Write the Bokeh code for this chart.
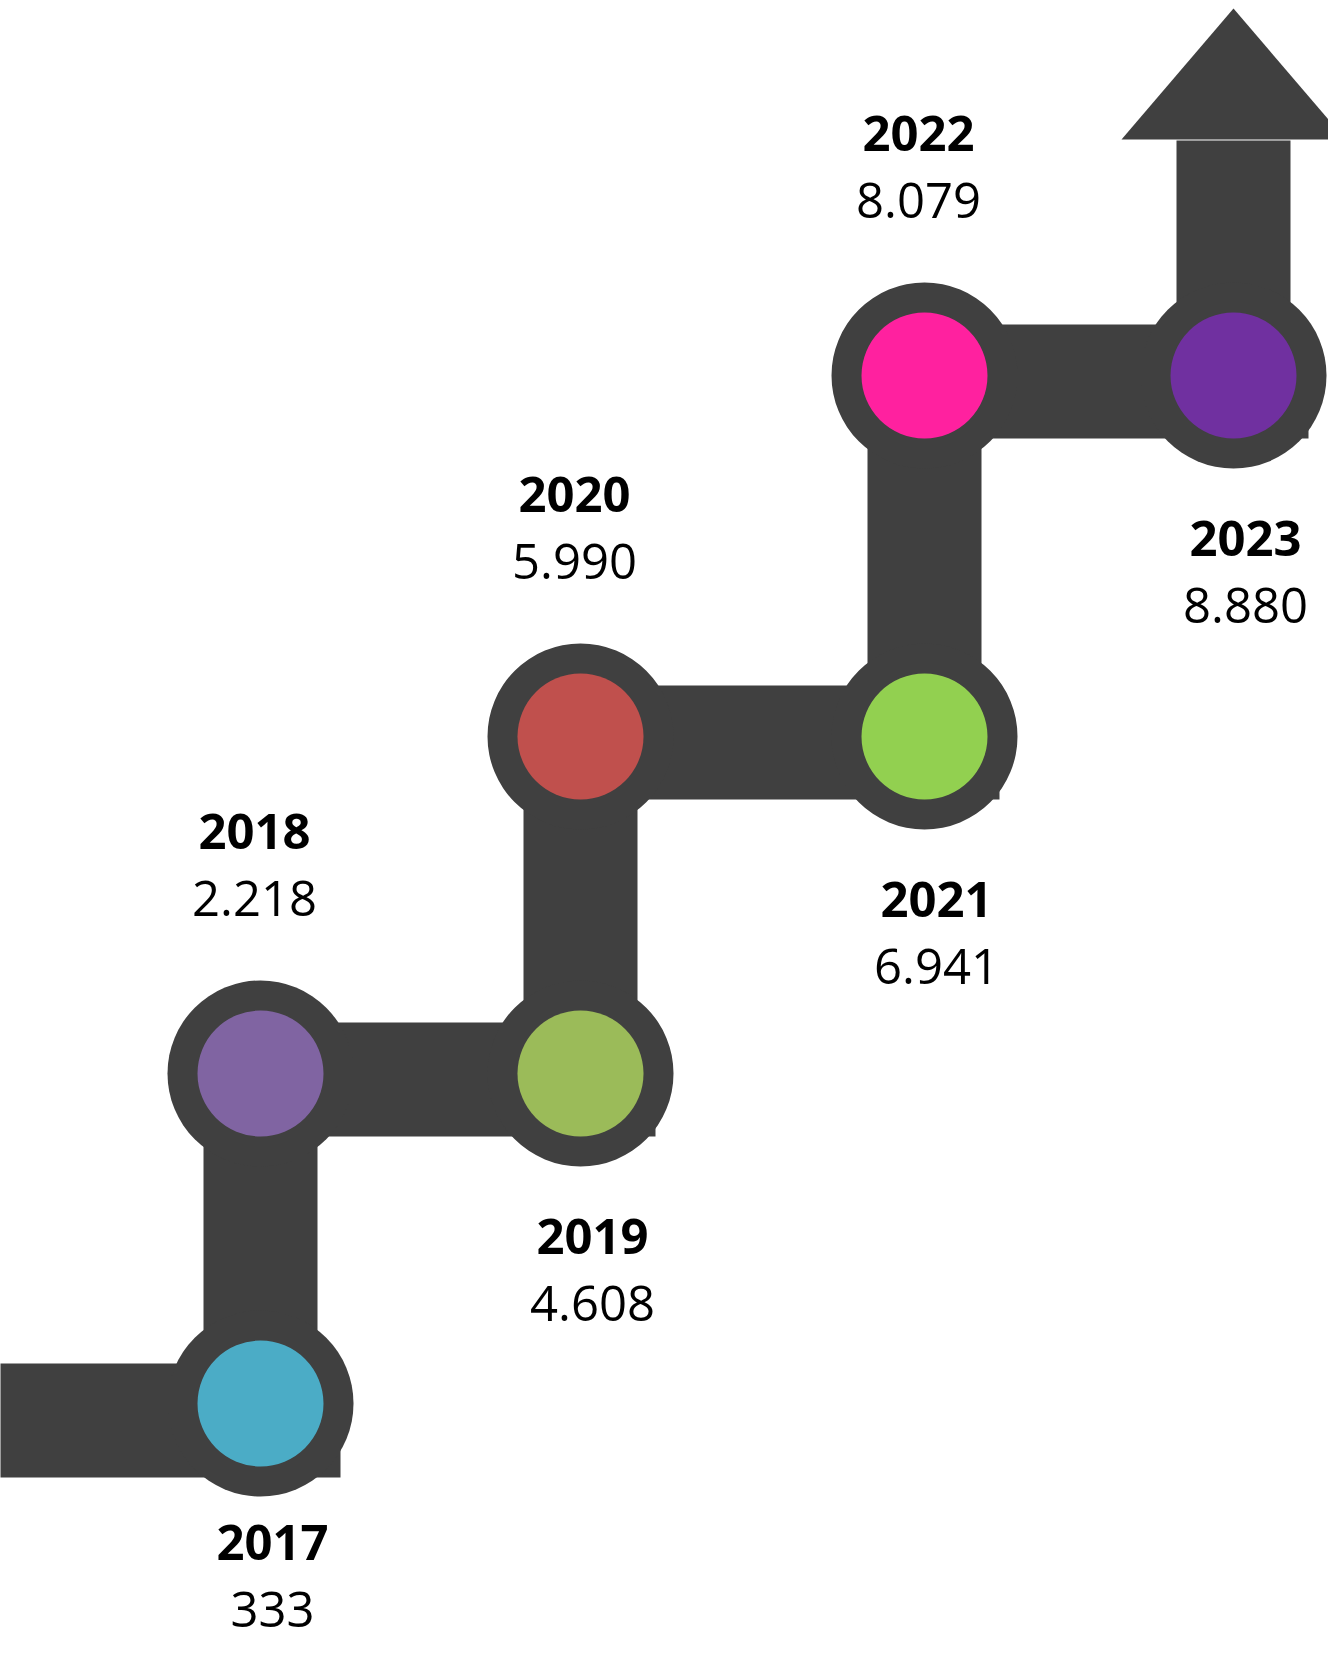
from bokeh.plotting import figure
from bokeh.models import Range1d, ColumnDataSource
from bokeh.core.properties import value
from bokeh.embed import file_html
from bokeh.resources import INLINE

# ---- data ----
years = ["2017", "2018", "2019", "2020", "2021", "2022", "2023"]
amounts = [333, 2218, 4608, 5990, 6941, 8079, 8880]
node_colors = ["#4BACC6", "#8064A2", "#9BBB59", "#C0504D", "#92D050", "#FF219F", "#7030A0"]

# ---- layout (staircase grid, in screen pixels) ----
col_x = [260, 580, 924, 1233]
row_y = [1403, 1073, 736, 375]
DARK = "#404040"
BAR = 114
R_OUT = 93
R_IN = 63

n = len(years)
cols = [i // 2 for i in range(n)]
rows = [(i + 1) // 2 for i in range(n)]
nx = [col_x[c] for c in cols]
ny = [row_y[r] for r in rows]

W, H = 1328, 1642
p = figure(width=W, height=H, output_backend="svg", toolbar_location=None,
           x_range=Range1d(0, W), y_range=Range1d(H, 0),
           x_axis_type=None, y_axis_type=None, min_border=0,
           background_fill_color="white", border_fill_color="white",
           outline_line_color=None)
p.grid.visible = False

# connecting bars
L, R, T, B = [], [], [], []
for i in range(n - 1):
    x0, y0, x1, y1 = nx[i], ny[i], nx[i + 1], ny[i + 1]
    if x0 == x1:  # vertical
        L.append(x0 - BAR / 2); R.append(x0 + BAR / 2)
        T.append(min(y0, y1)); B.append(max(y0, y1))
    else:         # horizontal
        L.append(min(x0, x1)); R.append(max(x0, x1) + 75)
        T.append(y0 - BAR / 2 + 6); B.append(y0 + BAR / 2 + 6)
# lead-in bar
L.append(-10); R.append(nx[0] + 80); T.append(ny[0] - BAR / 2 + 17); B.append(ny[0] + BAR / 2 + 17)
# arrow shaft
head_base = ny[-1] - 236
L.append(nx[-1] - BAR / 2); R.append(nx[-1] + BAR / 2); T.append(head_base + 1); B.append(ny[-1])
p.quad(left=L, right=R, top=T, bottom=B, fill_color=DARK, line_color=None)

# arrow head
p.patch(x=[nx[-1] - 112, nx[-1], nx[-1] + 112],
        y=[head_base, ny[-1] - 367, head_base],
        fill_color=DARK, line_color=None)

src = ColumnDataSource(dict(x=nx, y=ny, c=node_colors))
p.circle(x="x", y="y", radius=R_OUT, fill_color=DARK, line_color=None, source=src)
p.circle(x="x", y="y", radius=R_IN, fill_color="c", line_color=None, source=src)

# labels (below-labels are kept inside the canvas)
GAP = 67
MAX_VAL_Y = H - 33
lx, ly_year, ly_val, vals = [], [], [], []
for i in range(n):
    above = (i % 2 == 1)
    lx.append(nx[i] + (-6 if above else 12))
    if above:
        yv = ny[i] - 175
    else:
        yv = min(ny[i] + 230, MAX_VAL_Y)
    ly_val.append(yv)
    ly_year.append(yv - GAP)
    vals.append(f"{amounts[i]:,}".replace(",", "."))

p.text(x=lx, y=ly_year, text=years, text_font=value("Open Sans"), text_font_style="bold",
       text_font_size="49px", text_align="center", text_baseline="alphabetic", text_color="black")
p.text(x=lx, y=ly_val, text=vals, text_font=value("Open Sans"),
       text_font_size="49px", text_align="center", text_baseline="alphabetic", text_color="black")

open("out.html", "w").write(file_html(p, INLINE))
